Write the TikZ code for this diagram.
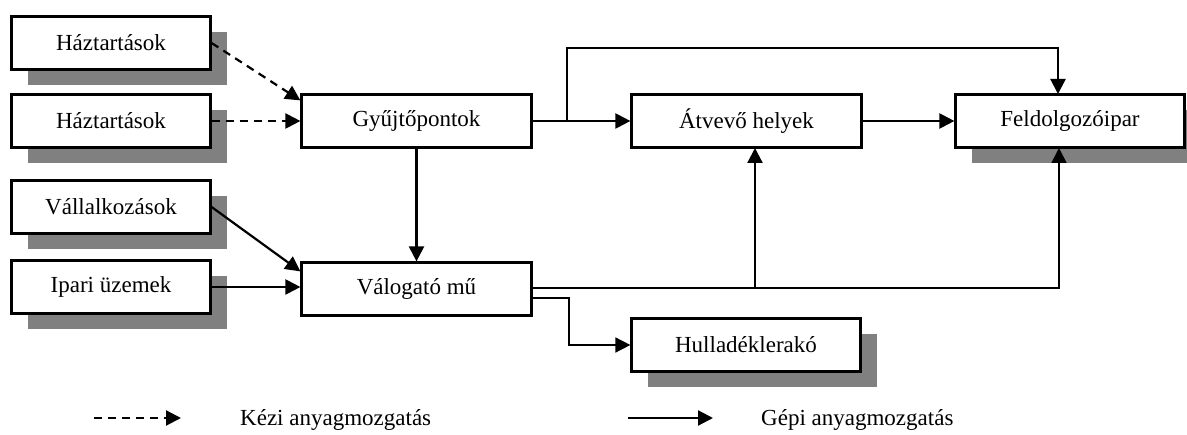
\documentclass[tikz,border=0pt]{standalone}
\usepackage{fontspec}
\setmainfont{Liberation Serif}
\usetikzlibrary{arrows.meta,calc,shadows}
\definecolor{shadowgray}{HTML}{808080}
\begin{document}
\begin{tikzpicture}[x=1pt,y=-1pt,
  box/.style={draw,line width=2.2pt,fill=white,minimum height=53pt,inner sep=0pt,
    font=\fontsize{23}{26}\selectfont},
  small/.style={box,minimum width=199pt},
  big/.style={box,minimum width=229pt},
  shad/.style={drop shadow={shadow xshift=16pt,shadow yshift=-16pt,opacity=1,fill=shadowgray}},
  conn/.style={line width=2.2pt,-{Triangle[length=15pt,width=15pt]}},
  thinconn/.style={line width=1.6pt,-{Triangle[length=15pt,width=15pt]}},
  dashconn/.style={conn,dash pattern=on 8pt off 6pt},
  legtext/.style={anchor=west,inner sep=0pt,font=\fontsize{23}{26}\selectfont}
]
\useasboundingbox (0,0) rectangle (1187,435);
% left boxes
\node[small,shad] (h1) at (111,43) {Háztartások};
\node[small,shad] (h2) at (111,121) {Háztartások};
\node[small,shad] (v) at (111,207) {Vállalkozások};
\node[small,shad] (ip) at (111,287) {Ipari üzemek};
% middle
\node[box,minimum width=230pt] (gy) at (416.5,121) {Gyűjtőpontok};
\node[box,minimum width=230pt] (val) at (416.5,289) {Válogató mű};
\node[box,minimum width=230pt] (at) at (746.5,121) {Átvevő helyek};
\node[big,shad] (fe) at (1070,121) {Feldolgozóipar};
\node[big,shad] (hu) at (746,345) {Hulladéklerakó};
% connectors
\draw[dashconn] (h1.east) -- ([yshift=-7pt]gy.north west);
\draw[dashconn] (h2.east) -- (gy.west);
\draw[conn] (v.east) -- ([yshift=-10pt]val.north west);
\draw[conn] (ip.east) -- (ip.east -| val.west);
\draw[conn] (gy.south) -- (val.north);
\draw[conn] (gy.east) -- (at.west);
\coordinate (br) at (567,121);
\coordinate (brtop) at (567,48);
\coordinate (topin) at (1058,94);
\draw[conn] (br) -- (brtop) -| (topin);
\draw[conn] (at.east) -- (fe.west);
\coordinate (vo) at (532,288);
\coordinate (botin) at (1059,148);
\coordinate (atin) at (755,148);
\coordinate (atfoot) at (755,288);
\draw[thinconn] (vo) -| (botin);
\draw[conn] (atfoot) -- (atin);
\coordinate (vo2) at (532,298);
\coordinate (vx) at (569,298);
\draw[thinconn] (vo2) -- (vx) |- (hu.west);
% legend
\coordinate (l1a) at (94,418);
\coordinate (l1b) at (181,418);
\draw[dashconn] (l1a) -- (l1b);
\node[legtext] (lt1) at (240,420) {Kézi anyagmozgatás};
\coordinate (l2a) at (628,418);
\coordinate (l2b) at (713,418);
\draw[conn] (l2a) -- (l2b);
\node[legtext] (lt2) at (761,420) {Gépi anyagmozgatás};
\end{tikzpicture}
\end{document}
